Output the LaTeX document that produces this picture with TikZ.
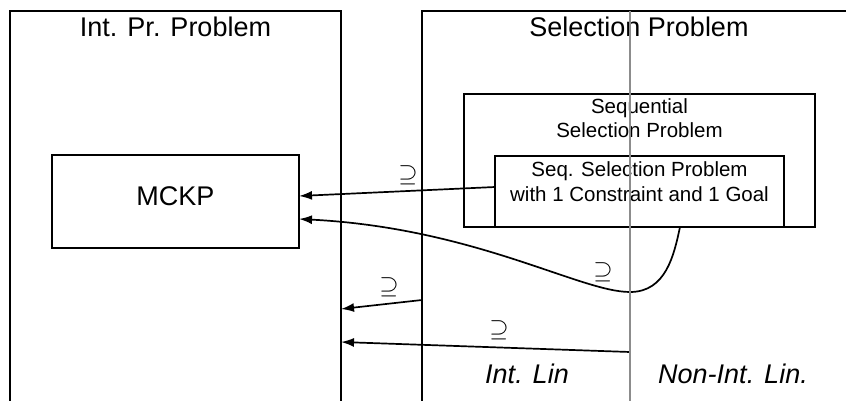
\documentclass[tikz,border=0pt]{standalone}
\usepackage{fontspec}
\setmainfont{Liberation Sans}
\usetikzlibrary{arrows.meta,calc}
\definecolor{divgray}{HTML}{8C8C8C}
\tikzset{
  frame/.style={draw, line width=1.8pt, inner sep=0pt, outer sep=0pt},
  bigtext/.style={font=\fontsize{27}{32}\selectfont, inner sep=0pt},
  midtext/.style={font=\fontsize{20.5}{24.5}\selectfont, inner sep=0pt, align=center},
  arr/.style={line width=1.7pt, -{Latex[length=13pt,width=9pt]}},
  sub/.style={font=\fontsize{29}{32}\selectfont, inner sep=0pt},
  divider/.style={draw=divgray, line width=1.6pt}
}
\begin{document}
\begin{tikzpicture}[x=1pt,y=-1pt]
\useasboundingbox (0,0) rectangle (846,401);
\clip (0,0) rectangle (846,401);

% outer regions (open at the bottom / right)
\node[frame, anchor=north west, minimum width=331pt, minimum height=420pt] (ip) at (10,11) {};
\node[frame, anchor=north west, minimum width=460pt, minimum height=420pt] (sel) at (422,11) {};
\node[bigtext, anchor=base] (iptitle) at (175.5,37) {Int. Pr. Problem};
\node[bigtext, anchor=base] (seltitle) at (639,37) {Selection Problem};

% MCKP box
\node[frame, anchor=north west, minimum width=247pt, minimum height=93pt] (mckp) at (52,155) {};
\node[bigtext, anchor=base] (mckptext) at (175.5,205) {MCKP};

% sequential selection problem boxes (base = baseline of last line)
\node[frame, anchor=north west, minimum width=351pt, minimum height=133pt] (seq) at (464,94) {};
\node[midtext, anchor=base] (seqtext) at (639.5,138) {Sequential\\Selection Problem};
\node[frame, anchor=north west, minimum width=289pt, minimum height=71pt] (seq1) at (495,156) {};
\node[midtext, anchor=base] (seq1text) at (639.5,201) {Seq. Selection Problem\\with 1 Constraint and 1 Goal};

% column labels
\node[bigtext, anchor=base, font=\fontsize{27}{32}\selectfont\itshape] (intlin) at (527,383) {Int. Lin};
\node[bigtext, anchor=base, font=\fontsize{27}{32}\selectfont\itshape] (nonint) at (733,383) {Non-Int. Lin.};

% divider between linear columns
\coordinate (divtop) at (630,11);
\coordinate (divbot) at (630,401);

% free ends of the connectors
\coordinate (c3s) at (sel.north west |- 0,300);
\coordinate (c3e) at (ip.north east |- 0,309);
\coordinate (c4s) at (divtop |- 0,352);
\coordinate (c4e) at (ip.north east |- 0,342);
\coordinate (curvemid) at (divtop |- 0,292);

% connectors
\draw[arr] ([yshift=4.5pt]seq1.west) -- ([yshift=5.5pt]mckp.east);
\draw[arr] ([xshift=40.5pt]seq1.south) .. controls (674,255) and (666,292) .. (curvemid)
  .. controls (580,292) and (475,228) .. ([yshift=-17.5pt]mckp.east);
\draw[arr] (c3s) -- (c3e);
\draw[arr] (c4s) -- (c4e);

% subset labels
\node[sub] (l1) at (408,175) {$\supseteq$};
\node[sub] (l2) at (603,272) {$\supseteq$};
\node[sub] (l3) at (389,287) {$\supseteq$};
\node[sub] (l4) at (499,330) {$\supseteq$};

\draw[divider] (divtop) -- (divbot);
\end{tikzpicture}
\end{document}
